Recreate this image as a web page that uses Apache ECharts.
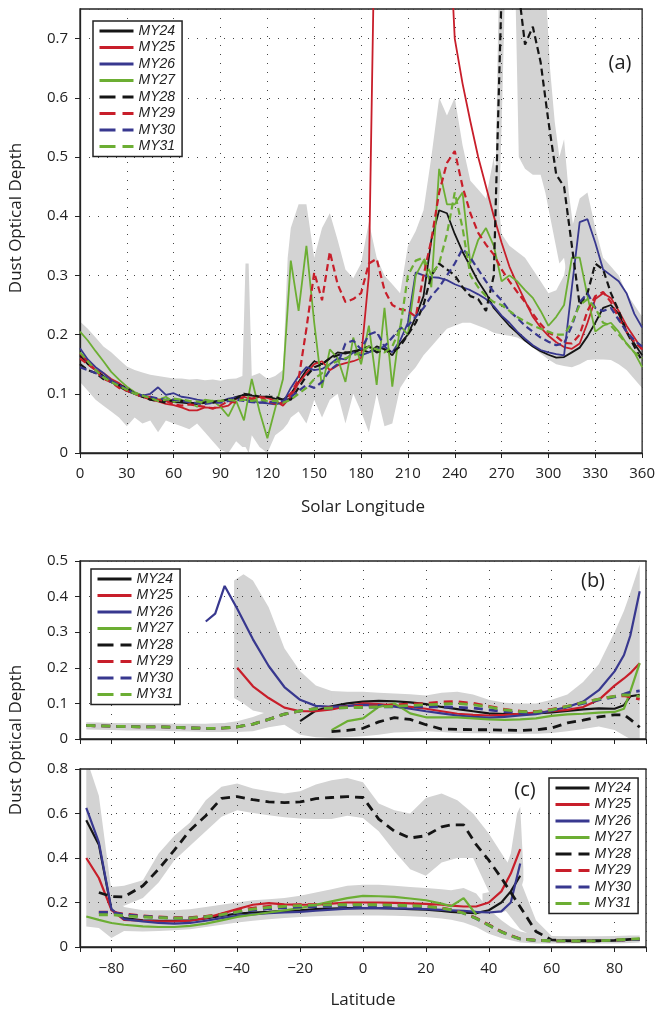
<!DOCTYPE html>
<html><head><meta charset="utf-8">
<script src="https://cdn.jsdelivr.net/npm/echarts@6/dist/echarts.min.js"></script>
<style>html,body{margin:0;padding:0;background:#fff}#c{width:658px;height:1011px}</style>
</head><body><div id="c"></div>
<script>
const _ = null;
const NAMES = ['MY24','MY25','MY26','MY27','MY28','MY29','MY30','MY31'];
const COLORS = ['#151515','#c81e2a','#38388f','#6cae33','#151515','#c81e2a','#38388f','#6cae33'];
const DASHED = [false,false,false,false,true,true,true,true];
const BAND = '#d3d3d3';

// ---------- panel (a): dust optical depth vs solar longitude ----------
const LS = [0,5,10,15,20,25,30,35,40,45,50,55,60,65,70,75,80,85,90,95,100,105,110,115,120,125,130,135,140,145,150,155,160,165,170,175,180,185,190,195,200,205,210,215,220,225,230,235,240,245,250,255,260,265,270,275,280,285,290,295,300,305,310,315,320,325,330,335,340,345,350,355,360];
const A_MY24 = [0.165,0.15,0.14,0.13,0.12,0.112,0.105,0.1,0.095,0.092,0.09,0.088,
 0.086,0.085,0.084,0.084,0.085,0.087,0.088,0.09,0.095,0.098,0.097,0.095,
 0.095,0.092,0.09,0.1,0.12,0.14,0.155,0.15,0.16,0.17,0.168,0.172,
 0.175,0.17,0.18,0.175,0.165,0.185,0.2,0.23,0.265,0.36,0.41,0.405,
 0.37,0.34,0.315,0.29,0.27,0.245,0.23,0.215,0.203,0.19,0.18,0.172,
 0.166,0.161,0.162,0.17,0.178,0.197,0.22,0.245,0.25,0.235,0.205,0.185,0.165];
const A_MY25 = [0.168,0.155,0.14,0.135,0.125,0.118,0.108,0.1,0.095,0.09,0.087,0.083,
 0.081,0.077,0.072,0.072,0.077,0.076,0.077,0.08,0.092,0.095,0.09,0.095,
 0.093,0.088,0.08,0.095,0.118,0.135,0.15,0.155,0.14,0.148,0.152,0.155,
 0.16,0.3,1.1,1.3,1.3,1.3,1.3,1.3,1.3,1.2,1.1,0.97,
 0.7,0.624,0.56,0.5,0.45,0.4,0.355,0.315,0.285,0.257,0.23,0.212,
 0.198,0.187,0.179,0.176,0.185,0.22,0.26,0.27,0.262,0.24,0.215,0.195,0.175];
const A_MY26 = [0.177,0.158,0.145,0.135,0.123,0.115,0.108,0.102,0.097,0.1,0.111,0.098,
 0.101,0.095,0.093,0.09,0.088,0.085,0.087,0.092,0.094,0.09,0.088,0.085,
 0.084,0.082,0.085,0.11,0.13,0.145,0.14,0.142,0.15,0.16,0.158,0.17,
 0.165,0.17,0.175,0.18,0.17,0.19,0.22,0.305,0.3,0.297,0.296,0.292,
 0.285,0.28,0.275,0.268,0.26,0.248,0.232,0.22,0.205,0.193,0.182,0.174,
 0.17,0.167,0.165,0.28,0.39,0.395,0.355,0.31,0.3,0.29,0.27,0.235,0.212];
const A_MY27 = [0.205,0.19,0.172,0.155,0.137,0.124,0.112,0.103,0.097,0.094,0.09,0.095,
 0.086,0.09,0.085,0.078,0.09,0.088,0.078,0.062,0.088,0.055,0.125,0.07,
 0.025,0.075,0.125,0.325,0.24,0.35,0.22,0.11,0.175,0.16,0.12,0.195,
 0.15,0.215,0.115,0.245,0.112,0.215,0.2,0.3,0.325,0.28,0.48,0.42,
 0.42,0.44,0.32,0.36,0.38,0.35,0.29,0.3,0.29,0.275,0.262,0.24,
 0.215,0.23,0.25,0.33,0.33,0.265,0.205,0.215,0.22,0.205,0.185,0.17,0.145];
const A_MY28 = [0.15,0.14,0.135,0.125,0.12,0.115,0.11,0.1,0.095,0.09,0.088,0.085,
 0.09,0.088,0.085,0.083,0.085,0.085,0.088,0.09,0.092,0.1,0.098,0.095,
 0.095,0.095,0.09,0.09,0.11,0.13,0.145,0.15,0.16,0.165,0.17,0.17,
 0.175,0.18,0.17,0.175,0.17,0.18,0.2,0.22,0.25,0.3,0.32,0.31,
 0.3,0.28,0.265,0.26,0.24,0.3,0.78,0.9,0.8,0.69,0.72,0.66,
 0.56,0.47,0.45,0.35,0.25,0.27,0.32,0.31,0.27,0.24,0.205,0.18,0.155];
const A_MY29 = [0.16,0.15,0.14,0.125,0.12,0.11,0.105,0.1,0.095,0.095,0.09,0.088,
 0.082,0.08,0.082,0.08,0.078,0.075,0.08,0.088,0.085,0.095,0.092,0.095,
 0.088,0.083,0.085,0.1,0.125,0.21,0.305,0.258,0.34,0.285,0.255,0.26,
 0.27,0.32,0.328,0.275,0.25,0.243,0.24,0.23,0.3,0.36,0.44,0.49,
 0.51,0.45,0.405,0.372,0.352,0.335,0.31,0.29,0.272,0.255,0.235,0.218,
 0.203,0.197,0.186,0.185,0.2,0.24,0.265,0.272,0.255,0.228,0.205,0.188,0.175];
const A_MY30 = [0.145,0.14,0.135,0.128,0.12,0.115,0.108,0.1,0.097,0.095,0.092,0.09,
 0.09,0.088,0.086,0.084,0.083,0.085,0.085,0.088,0.09,0.088,0.086,0.085,
 0.087,0.085,0.088,0.095,0.105,0.115,0.11,0.12,0.14,0.15,0.185,0.19,
 0.175,0.2,0.205,0.18,0.195,0.21,0.215,0.23,0.245,0.265,0.28,0.3,
 0.32,0.345,0.33,0.31,0.29,0.272,0.258,0.24,0.228,0.215,0.205,0.195,
 0.188,0.182,0.185,0.215,0.255,0.27,0.245,0.24,0.245,0.225,0.205,0.19,0.18];
const A_MY31 = [0.17,0.155,0.14,0.128,0.12,0.113,0.107,0.1,0.097,0.093,0.088,0.09,
 0.092,0.09,0.088,0.087,0.085,0.088,0.088,0.09,0.088,0.09,0.088,0.09,
 0.088,0.088,0.085,0.09,0.1,0.11,0.125,0.135,0.15,0.155,0.16,0.165,
 0.17,0.18,0.175,0.17,0.18,0.21,0.3,0.325,0.33,0.3,0.32,0.37,
 0.44,0.38,0.3,0.28,0.265,0.255,0.25,0.24,0.23,0.222,0.215,0.21,
 0.205,0.2,0.2,0.22,0.25,0.26,0.245,0.22,0.215,0.2,0.185,0.17,0.16];
// spread envelope (a)
const A_BAND_LS = [0,5,10,15,20,25,30,35,40,45,50,55,60,65,70,75,80,85,90,95,100,104,106,108,110,115,120,125,130,133,135,140,145,150,155,160,165,170,175,180,185,190,195,200,205,210,215,220,225,230,235,240,245,250,255,260,265,270,275,280,285,290,295,300,305,310,315,320,325,330,335,340,345,350,355,360];
const A_BAND_HI = [0.222,0.21,0.195,0.18,0.17,0.158,0.146,0.14,0.136,0.132,0.13,0.128,0.126,0.126,0.124,0.125,0.123,0.124,0.122,0.125,0.126,
 0.13,0.32,0.32,0.13,0.135,0.125,0.13,0.14,0.33,
 0.38,0.42,0.42,0.33,0.38,0.405,0.36,0.31,0.295,0.32,0.39,0.33,0.3,0.285,0.27,0.35,0.375,0.41,0.5,0.6,0.57,0.6,0.52,0.46,0.445,0.43,0.5,0.37,0.35,0.34,0.33,0.31,0.29,0.27,0.275,0.3,0.38,0.43,0.44,0.38,0.33,0.315,0.3,0.27,0.25,0.23];
const A_BAND_LO = [0.12,0.105,0.09,0.08,0.07,0.06,0.045,0.06,0.05,0.055,0.035,0.055,0.05,0.045,0.04,0.05,0.035,0.02,0.005,0.0,0.02,
 0.01,0.01,0.0,0.03,0.01,0.0,0.03,0.04,0.05,
 0.06,0.07,0.05,0.09,0.06,0.09,0.1,0.05,0.1,0.07,0.035,0.1,0.045,0.05,0.11,0.13,0.145,0.165,0.18,0.195,0.21,0.215,0.22,0.22,0.215,0.21,0.203,0.2,0.198,0.195,0.188,0.178,0.168,0.158,0.15,0.147,0.145,0.15,0.157,0.158,0.158,0.157,0.15,0.14,0.125,0.11];
// MY28 storm envelope (a)
const A28_BAND_LS = [264,266,268,270,272,276,279,281,285,290,295,298,301,304,307,310,313,316,320,324];
const A28_BAND_LO = [0.22,0.25,0.38,0.55,0.76,0.76,0.76,0.5,0.48,0.47,0.47,0.44,0.4,0.36,0.32,0.33,0.28,0.24,0.21,0.21];
const A28_BAND_HI = [0.3,0.45,0.75,0.9,0.9,0.78,0.77,0.9,0.9,0.9,0.9,0.8,0.65,0.56,0.5,0.53,0.44,0.38,0.33,0.28];

// ---------- panel (b): latitude profile ----------
const LAT_B = [-88,-84,-80,-75,-70,-65,-60,-55,-50,-47,-44,-40,-35,-30,-25,-20,-15,-10,-5,0,5,10,15,20,25,30,35,40,45,50,55,60,65,70,75,80,83,85,88];
const B_MY24 = [_,_,_,_,_,_,_,_,_,_,_,_,_,_,_,0.05,0.08,0.092,0.1,0.105,0.107,0.106,0.103,0.098,0.09,0.084,0.078,0.072,0.07,0.07,0.072,0.075,0.079,0.083,0.086,0.085,0.095,0.12,0.124];
const B_MY25 = [_,_,_,_,_,_,_,_,_,_,_,0.2,0.148,0.115,0.088,0.078,0.078,0.083,0.092,0.1,0.098,0.094,0.09,0.085,0.078,0.071,0.068,0.066,0.068,0.071,0.074,0.078,0.082,0.09,0.11,0.15,0.17,0.185,0.213];
const B_MY26 = [_,_,_,_,_,_,_,_,0.33,0.352,0.43,0.366,0.28,0.205,0.146,0.11,0.093,0.09,0.093,0.096,0.095,0.091,0.085,0.078,0.072,0.066,0.062,0.06,0.062,0.066,0.07,0.08,0.09,0.105,0.137,0.19,0.236,0.29,0.415];
const B_MY27 = [_,_,_,_,_,_,_,_,_,_,_,_,_,_,_,_,_,0.025,0.05,0.058,0.09,0.1,0.072,0.061,0.061,0.061,0.058,0.055,0.054,0.055,0.058,0.065,0.069,0.071,0.074,0.076,0.085,0.133,0.213];
const B_MY28 = [_,_,_,_,_,_,_,_,_,_,_,_,_,_,_,_,_,0.021,0.024,0.03,0.048,0.06,0.055,0.04,0.028,0.027,0.026,0.026,0.025,0.024,0.026,0.031,0.045,0.053,0.062,0.068,0.068,0.055,0.033];
const B_MY29 = [0.038,0.037,0.036,0.035,0.034,0.034,0.033,0.031,0.03,0.03,0.031,0.034,0.042,0.055,0.07,0.079,0.085,0.088,0.09,0.092,0.094,0.096,0.098,0.1,0.104,0.105,0.1,0.092,0.083,0.078,0.077,0.083,0.092,0.102,0.112,0.12,0.122,0.118,0.112];
const B_MY30 = [0.038,0.037,0.036,0.035,0.034,0.034,0.033,0.031,0.03,0.03,0.031,0.034,0.042,0.055,0.07,0.079,0.085,0.087,0.088,0.089,0.09,0.09,0.09,0.09,0.09,0.089,0.087,0.082,0.077,0.074,0.074,0.08,0.09,0.1,0.11,0.118,0.126,0.132,0.135];
const B_MY31 = [0.038,0.037,0.036,0.035,0.034,0.034,0.033,0.031,0.03,0.03,0.031,0.034,0.042,0.055,0.07,0.079,0.085,0.087,0.088,0.089,0.09,0.092,0.094,0.096,0.098,0.1,0.096,0.09,0.082,0.077,0.076,0.082,0.092,0.102,0.112,0.12,0.124,0.123,0.12];
const B_BAND_LO = [0.027,0.026,0.025,0.024,0.024,0.023,0.022,0.021,0.02,0.02,0.02,0.02,0.022,0.033,0.04,0.012,0.005,0.003,0.005,0.008,0.012,0.018,0.02,0.022,0.02,0.017,0.016,0.016,0.015,0.015,0.015,0.017,0.022,0.028,0.035,0.025,0.01,0.0,0.0];
const B_BAND_HI = [0.047,0.046,0.045,0.045,0.044,0.044,0.043,0.043,0.043,0.044,0.045,0.05,0.062,0.078,0.095,0.12,0.135,0.135,0.133,0.133,0.13,0.128,0.126,0.122,0.13,0.133,0.125,0.11,0.102,0.1,0.1,0.11,0.125,0.16,0.21,0.3,0.36,0.41,0.49];
const LAT_B1 = [-41,-38,-35,-30,-25,-20,-15,-10];
const B1_BAND_LO = [0.115,0.1,0.08,0.07,0.06,0.05,0.05,0.05];
const B1_BAND_HI = [0.445,0.463,0.445,0.37,0.255,0.19,0.15,0.135];

// ---------- panel (c): latitude profile ----------
const LAT_C = [-88,-84,-80,-76,-70,-65,-60,-55,-50,-45,-40,-35,-30,-25,-20,-15,-10,-5,0,5,10,15,20,25,28,32,36,40,44,47,50,55,60,65,70,75,80,85,88];
const C_MY24 = [0.57,0.46,0.167,0.13,0.12,0.118,0.118,0.12,0.128,0.14,0.15,0.155,0.158,0.162,0.165,0.17,0.173,0.175,0.175,0.175,0.173,0.17,0.168,0.162,0.158,0.154,0.152,0.165,0.2,0.25,0.32,_,_,_,_,_,_,_,_];
const C_MY25 = [0.4,0.31,0.167,0.122,0.118,0.115,0.115,0.118,0.13,0.15,0.17,0.19,0.197,0.192,0.19,0.19,0.195,0.2,0.2,0.2,0.198,0.196,0.194,0.19,0.186,0.182,0.182,0.2,0.25,0.33,0.44,_,_,_,_,_,_,_,_];
const C_MY26 = [0.625,0.47,0.17,0.125,0.115,0.108,0.105,0.108,0.118,0.13,0.14,0.147,0.152,0.155,0.158,0.163,0.168,0.172,0.175,0.175,0.173,0.172,0.17,0.167,0.165,0.162,0.158,0.155,0.16,0.2,0.375,_,_,_,_,_,_,_,_];
const C_MY27 = [0.137,0.122,0.108,0.1,0.093,0.09,0.09,0.095,0.105,0.12,0.135,0.145,0.155,0.165,0.175,0.19,0.205,0.22,0.23,0.228,0.225,0.218,0.21,0.195,0.183,0.22,0.145,_,_,_,_,_,_,_,_,_,_,_,_];
const C_MY28 = [_,0.245,0.227,0.225,0.275,0.35,0.435,0.525,0.59,0.668,0.676,0.662,0.652,0.649,0.652,0.667,0.672,0.676,0.672,0.575,0.52,0.49,0.5,0.54,0.549,0.549,0.46,0.39,0.31,0.245,0.18,0.07,0.032,0.028,0.028,0.028,0.03,0.034,0.035];
const C_MY29 = [_,0.157,0.157,0.148,0.14,0.135,0.132,0.132,0.138,0.148,0.162,0.175,0.183,0.187,0.19,0.19,0.192,0.193,0.193,0.192,0.19,0.188,0.185,0.175,0.168,0.153,0.13,0.1,0.07,0.052,0.037,0.03,0.028,0.027,0.027,0.028,0.03,0.033,0.034];
const C_MY30 = [_,0.155,0.155,0.145,0.138,0.133,0.13,0.13,0.135,0.143,0.155,0.165,0.172,0.177,0.18,0.182,0.183,0.184,0.185,0.185,0.184,0.182,0.18,0.172,0.166,0.152,0.128,0.098,0.068,0.05,0.036,0.03,0.028,0.027,0.027,0.028,0.03,0.033,0.034];
const C_MY31 = [_,0.145,0.145,0.14,0.135,0.132,0.13,0.13,0.136,0.145,0.158,0.17,0.178,0.183,0.186,0.188,0.19,0.19,0.19,0.19,0.188,0.186,0.183,0.174,0.167,0.152,0.128,0.098,0.068,0.05,0.036,0.03,0.028,0.027,0.027,0.028,0.031,0.035,0.037];
const C_BAND_LO = [0.092,0.085,0.04,0.072,0.07,0.072,0.075,0.08,0.09,0.1,0.11,0.118,0.125,0.13,0.135,0.138,0.14,0.142,0.142,0.142,0.14,0.138,0.135,0.128,0.122,0.11,0.09,0.06,0.04,0.03,0.02,0.016,0.016,0.016,0.016,0.016,0.016,0.018,0.02];
const C_BAND_HI = [0.85,0.68,0.25,0.18,0.165,0.165,0.165,0.17,0.18,0.19,0.2,0.21,0.215,0.22,0.23,0.245,0.26,0.275,0.28,0.28,0.275,0.27,0.265,0.26,0.255,0.265,0.24,0.17,0.12,0.09,0.07,0.055,0.05,0.048,0.048,0.048,0.05,0.052,0.052];
const LAT_C2 = [-84,-80,-76,-70,-65,-60,-55,-50,-45,-40,-35,-30,-25,-20,-15,-10,-5,0,5,10,15,20,25,30,35,40,45,50,55,60];
const C2_BAND_LO = [0.2,0.19,0.185,0.22,0.29,0.39,0.455,0.52,0.585,0.615,0.602,0.592,0.583,0.578,0.575,0.575,0.59,0.58,0.52,0.43,0.35,0.32,0.38,0.4,0.4,0.25,0.17,0.08,0.04,0.02];
const C2_BAND_HI = [0.27,0.27,0.275,0.3,0.42,0.5,0.56,0.66,0.72,0.735,0.712,0.7,0.69,0.7,0.73,0.75,0.76,0.74,0.645,0.615,0.6,0.67,0.69,0.66,0.6,0.51,0.4,0.3,0.12,0.05];
const LAT_C3 = [38,41,44,47,49,50,51];
const C3_BAND_LO = [0.16,0.15,0.155,0.17,0.2,0.25,0.3];
const C3_BAND_HI = [0.24,0.25,0.3,0.42,0.6,0.63,0.35];

// ---------- ticks ----------
const A_X_TICKS = {min: 0, max: 360, interval: 30};
const LAT_TICK_STEP = 20;

const FONT = "'Open Sans','Noto Sans',sans-serif";
const LFONT = "'Liberation Sans',Arial,sans-serif";
const INK = '#222';

function mkLine(g, xs, ys, i, wS, wD, dash) {
  return {
    type: 'line', name: NAMES[i], xAxisIndex: g, yAxisIndex: g,
    data: xs.map((x, k) => [x, ys[k]]),
    symbol: 'none', showSymbol: false, animation: false, z: 3, clip: true,
    lineStyle: {color: COLORS[i], width: DASHED[i] ? wD : wS, type: DASHED[i] ? dash : 'solid', cap: 'butt'},
    itemStyle: {color: COLORS[i]},
    emphasis: {disabled: true}
  };
}
// clip a pixel polygon to the plot rectangle (top / bottom edges)
function clipY(pts, yEdge, keepBelow) {
  const out = [];
  const n = pts.length;
  for (let i = 0; i < n; i++) {
    const a = pts[i], b = pts[(i + 1) % n];
    const ain = keepBelow ? a[1] >= yEdge : a[1] <= yEdge;
    const bin = keepBelow ? b[1] >= yEdge : b[1] <= yEdge;
    if (ain) out.push(a);
    if (ain !== bin) {
      const t = (yEdge - a[1]) / (b[1] - a[1]);
      out.push([a[0] + t * (b[0] - a[0]), yEdge]);
    }
  }
  return out;
}
function mkBand(g, xs, lo, hi) {
  return {
    type: 'custom', xAxisIndex: g, yAxisIndex: g, silent: true, animation: false, z: -1,
    data: [[xs[0], lo[0]]],
    renderItem: function (params, api) {
      const cs = params.coordSys;
      let pts = [];
      for (let k = 0; k < xs.length; k++) pts.push(api.coord([xs[k], hi[k]]));
      for (let k = xs.length - 1; k >= 0; k--) pts.push(api.coord([xs[k], lo[k]]));
      pts = clipY(pts, cs.y, true);
      pts = clipY(pts, cs.y + cs.height, false);
      return {type: 'polygon', shape: {points: pts}, style: {fill: BAND, stroke: null}};
    }
  };
}

const series = [];
series.push(mkBand(0, A_BAND_LS, A_BAND_LO, A_BAND_HI));
series.push(mkBand(0, A28_BAND_LS, A28_BAND_LO, A28_BAND_HI));
series.push(mkBand(1, LAT_B, B_BAND_LO, B_BAND_HI));
series.push(mkBand(1, LAT_B1, B1_BAND_LO, B1_BAND_HI));
series.push(mkBand(2, LAT_C, C_BAND_LO, C_BAND_HI));
series.push(mkBand(2, LAT_C2, C2_BAND_LO, C2_BAND_HI));
series.push(mkBand(2, LAT_C3, C3_BAND_LO, C3_BAND_HI));
[A_MY24,A_MY25,A_MY26,A_MY27,A_MY28,A_MY29,A_MY30,A_MY31].forEach((d, i) => series.push(mkLine(0, LS, d, i, 1.8, 2.2, [7, 4])));
[B_MY24,B_MY25,B_MY26,B_MY27,B_MY28,B_MY29,B_MY30,B_MY31].forEach((d, i) => series.push(mkLine(1, LAT_B, d, i, 2.2, 2.8, [9, 6])));
[C_MY24,C_MY25,C_MY26,C_MY27,C_MY28,C_MY29,C_MY30,C_MY31].forEach((d, i) => series.push(mkLine(2, LAT_C, d, i, 2.2, 2.8, [9, 6])));

const axisLine = {show: true, onZero: false, lineStyle: {color: INK, width: 1.3}};
const axisTick = {show: true, inside: false, length: 5, lineStyle: {color: INK, width: 1}};
const splitLine = {show: true, lineStyle: {color: '#444', width: 1, type: [1, 8]}};
const labelStyle = {fontFamily: FONT, fontSize: 15, color: INK};
const yFmt = step => v => {
  const k = v / step;
  if (Math.abs(k - Math.round(k)) > 1e-6) return '';
  return v === 0 ? '0' : String(+v.toFixed(2));
};
const latFmt = v => (v % LAT_TICK_STEP !== 0) ? '' : (v < 0 ? '\u2212' + (-v) : String(v));

function legend(left, top) {
  return {
    data: NAMES.map((n, i) => ({
      name: n,
      lineStyle: {width: 3, color: COLORS[i], type: DASHED[i] ? [16, 7] : 'solid', cap: 'butt'}
    })),
    left: left, top: top, orient: 'vertical',
    itemWidth: 34, itemHeight: 14, itemGap: 2.5, padding: [3, 7, 3, 5],
    borderColor: INK, borderWidth: 1.5, backgroundColor: '#fff', selectedMode: false,
    textStyle: {fontFamily: LFONT, fontStyle: 'italic', fontSize: 14, color: INK, lineHeight: 14},
    itemStyle: {opacity: 0, borderWidth: 0},
    lineStyle: {width: 3}, z: 10
  };
}

const option = {
  animation: false,
  backgroundColor: '#fff',
  grid: [
    {left: 80, right: 15, top: 9, height: 444, show: true, borderColor: INK, borderWidth: 1.3, backgroundColor: 'transparent'},
    {left: 80, right: 12, top: 561, height: 178, show: true, borderColor: INK, borderWidth: 1.3, backgroundColor: 'transparent'},
    {left: 80, right: 12, top: 769, height: 178, show: true, borderColor: INK, borderWidth: 1.3, backgroundColor: 'transparent'}
  ],
  xAxis: [
    {type: 'value', gridIndex: 0, min: A_X_TICKS.min, max: A_X_TICKS.max, interval: A_X_TICKS.interval,
     axisLine, axisTick, splitLine, axisLabel: Object.assign({margin: 13}, labelStyle)},
    {type: 'value', gridIndex: 1, min: -90, max: 90, splitNumber: 9, minInterval: LAT_TICK_STEP, maxInterval: LAT_TICK_STEP,
     axisLine, axisTick, splitLine, axisLabel: {show: false}},
    {type: 'value', gridIndex: 2, min: -90, max: 90, splitNumber: 9, minInterval: LAT_TICK_STEP, maxInterval: LAT_TICK_STEP,
     axisLine, axisTick, splitLine, axisLabel: Object.assign({margin: 14, formatter: latFmt}, labelStyle)}
  ],
  yAxis: [
    {type: 'value', gridIndex: 0, min: 0, max: 0.75, interval: 0.1, axisLine, axisTick, splitLine,
     axisLabel: Object.assign({margin: 12, formatter: yFmt(0.1), showMaxLabel: false}, labelStyle)},
    {type: 'value', gridIndex: 1, min: 0, max: 0.5, interval: 0.1, axisLine, axisTick, splitLine,
     axisLabel: Object.assign({margin: 12, formatter: yFmt(0.1)}, labelStyle)},
    {type: 'value', gridIndex: 2, min: 0, max: 0.8, interval: 0.2, axisLine, axisTick, splitLine,
     axisLabel: Object.assign({margin: 12, formatter: yFmt(0.2)}, labelStyle)}
  ],
  legend: [legend(93, 21), legend(91, 569), legend(549, 778)],
  graphic: [
    {type: 'text', x: 16, y: 218, rotation: Math.PI / 2, silent: true,
     style: {text: 'Dust Optical Depth', fontFamily: FONT, fontSize: 17, fill: INK, align: 'center', verticalAlign: 'middle'}},
    {type: 'text', x: 16, y: 740, rotation: Math.PI / 2, silent: true,
     style: {text: 'Dust Optical Depth', fontFamily: FONT, fontSize: 17, fill: INK, align: 'center', verticalAlign: 'middle'}},
    {type: 'text', x: 363, y: 507, silent: true,
     style: {text: 'Solar Longitude', fontFamily: FONT, fontSize: 17, fill: INK, align: 'center', verticalAlign: 'middle'}},
    {type: 'text', x: 363, y: 1000, silent: true,
     style: {text: 'Latitude', fontFamily: FONT, fontSize: 17, fill: INK, align: 'center', verticalAlign: 'middle'}},
    {type: 'text', x: 620, y: 63, silent: true,
     style: {text: '(a)', fontFamily: FONT, fontSize: 20, fill: INK, align: 'center', verticalAlign: 'middle'}},
    {type: 'text', x: 593, y: 581, silent: true,
     style: {text: '(b)', fontFamily: FONT, fontSize: 20, fill: INK, align: 'center', verticalAlign: 'middle'}},
    {type: 'text', x: 525, y: 790, silent: true,
     style: {text: '(c)', fontFamily: FONT, fontSize: 20, fill: INK, align: 'center', verticalAlign: 'middle'}}
  ],
  series: series
};

const chart = echarts.init(document.getElementById('c'), null, {renderer: 'canvas'});
chart.setOption(option);
</script>
</body></html>
